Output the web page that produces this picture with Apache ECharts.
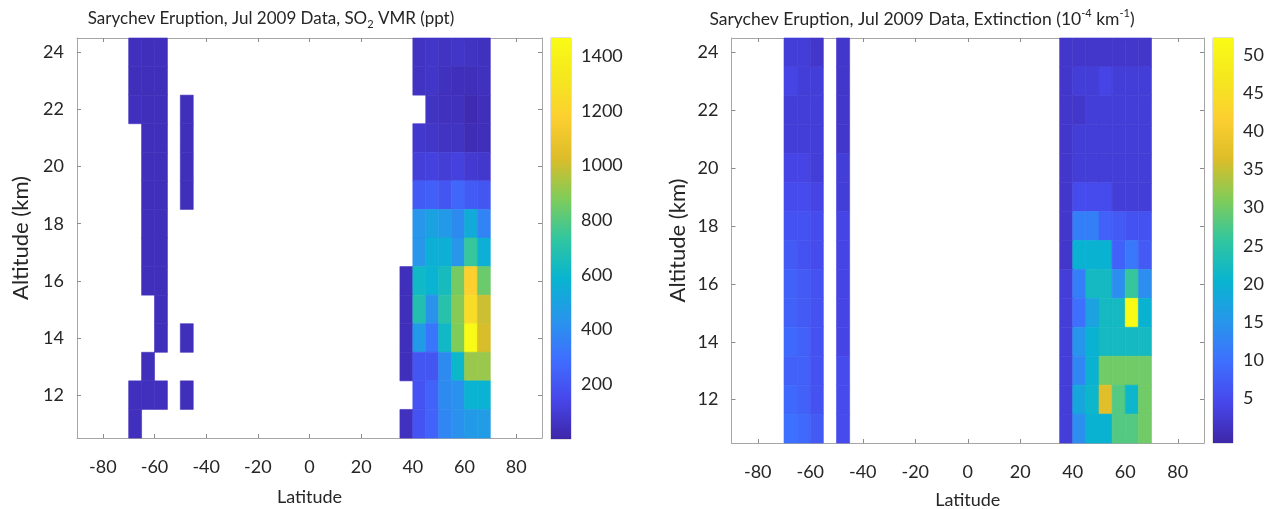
<!DOCTYPE html>
<html><head><meta charset="utf-8">
<script src="https://cdn.jsdelivr.net/npm/echarts@6/dist/echarts.min.js"></script>
<style>html,body{margin:0;padding:0;background:#fff}#c{width:1271px;height:509px}</style>
</head><body><div id="c"></div>
<script>
// ---------- data ----------
const latTicks = [-80, -60, -40, -20, 0, 20, 40, 60, 80];
const altTicks = [12, 14, 16, 18, 20, 22, 24];
const so2Ticks = [200, 400, 600, 800, 1000, 1200, 1400];
const extTicks = [5, 10, 15, 20, 25, 30, 35, 40, 45, 50];
const altitudes = [24, 23, 22, 21, 20, 19, 18, 17, 16, 15, 14, 13, 12, 11];
const cellLatWidth = 5;
const cellAltHeight = 1;

// SO2 VMR (ppt): southern cells, latitude centres
const so2WestLats = [-67.5, -62.5, -57.5, -52.5, -47.5];
const so2West = [
  [45, 40, 45, null, null],
  [40, 40, 40, null, null],
  [45, 40, 40, null, 40],
  [null, 40, 40, null, 40],
  [null, 40, 40, null, 40],
  [null, 40, 40, null, 40],
  [null, 40, 40, null, null],
  [null, 40, 40, null, null],
  [null, 40, 40, null, null],
  [null, null, 40, null, null],
  [null, null, 40, null, 40],
  [null, 40, null, null, null],
  [45, 45, 45, null, 40],
  [45, null, null, null, null]
];
// SO2 VMR (ppt): northern cells
const eastLats = [37.5, 42.5, 47.5, 52.5, 57.5, 62.5, 67.5];
const so2East = [
  [null, 60, 70, 60, 70, 60, 50],
  [null, 60, 70, 50, 40, 40, 50],
  [null, null, 60, 50, 50, 20, 40],
  [null, 80, 70, 60, 60, 30, 40],
  [null, 110, 120, 100, 120, 90, 80],
  [null, 220, 240, 200, 260, 220, 200],
  [null, 440, 500, 460, 400, 540, 370],
  [null, 440, 560, 560, 440, 740, 560],
  [40, 620, 580, 640, 860, 1180, 840],
  [40, 680, 430, 700, 890, 1250, 1000],
  [40, 460, 320, 620, 880, 1460, 1020],
  [40, 200, 200, 400, 600, 920, 920],
  [null, 190, 250, 400, 420, 580, 580],
  [50, 190, 250, 380, 420, 460, 470]
];
// Extinction (1e-4 km^-1): southern cells
const extWestLats = [-67.5, -62.5, -57.5, -47.5];
const extWest = [
  [3, 3, 2, 2],
  [4, 3, 3, 2],
  [3, 3, 3, 2],
  [3, 3, 3, 2],
  [4, 4, 3, 3],
  [5, 5, 4, 3],
  [6, 6, 5, 4],
  [7, 6, 5, 4],
  [8, 7, 6, 4],
  [8, 7, 6, 4],
  [9, 8, 6, 4],
  [8, 8, 6, 5],
  [9, 8, 6, 5],
  [10, 9, 7, 5]
];
// Extinction: northern cells
const extEast = [
  [2, 2, 2, 2, 2, 2, 2],
  [2, 3, 3, 4, 3, 3, 3],
  [2, 2, 3, 3, 3, 3, 3],
  [2, 3, 3, 3, 3, 3, 3],
  [2, 3, 3, 3, 3, 3, 3],
  [2, 5, 5, 5, 3, 3, 3],
  [2, 12, 12, 8, 7, 6, 6],
  [2, 20, 20, 20, 8, 11, 7],
  [3, 12, 22, 22, 14, 26, 14],
  [3, 10, 17, 22, 22, 52, 20],
  [3, 15, 20, 22, 22, 22, 22],
  [3, 13, 20, 30, 30, 30, 30],
  [3, 18, 21, 37, 28, 21, 30],
  [3, 14, 20, 20, 28, 28, 30]
];
const so2Range = [0, 1466];
const extRange = [-0.8, 52.2];

// ---------- helpers ----------
const parula = ['#3e26a8', '#4747eb', '#3e6fff', '#2796eb', '#08b4d0', '#31c69f',
  '#80cc59', '#dcbd29', '#fccf30', '#f5e71f', '#f9fb15'];

function cells(lats, rows) {
  const out = [];
  rows.forEach((row, i) => row.forEach((v, j) => {
    if (v !== null) out.push([lats[j], altitudes[i], v]);
  }));
  return out;
}
function renderCell(params, api) {
  const lat = api.value(0), alt = api.value(1);
  const p1 = api.coord([lat - cellLatWidth / 2, alt + cellAltHeight / 2]);
  const p2 = api.coord([lat + cellLatWidth / 2, alt - cellAltHeight / 2]);
  const shape = echarts.graphic.clipRectByRect(
    { x: p1[0], y: p1[1], width: p2[0] - p1[0], height: p2[1] - p1[1] },
    { x: params.coordSys.x, y: params.coordSys.y, width: params.coordSys.width, height: params.coordSys.height });
  if (!shape) return;
  const c = api.visual('color');
  return { type: 'rect', shape: shape, style: { fill: c, stroke: c, lineWidth: 0.6 } };
}
const gradStops = parula.map((c, i) => ({ offset: i / (parula.length - 1), color: c }));
function renderBar(params, api) {
  const cs = params.coordSys;
  const yTop = api.coord([0, api.value(2)])[1];
  const yBot = api.coord([0, api.value(1)])[1];
  return { type: 'rect', shape: { x: cs.x, y: yTop, width: cs.width, height: yBot - yTop },
    style: { fill: new echarts.graphic.LinearGradient(0, 1, 0, 0, gradStops) } };
}
const FONT = 'Lato';
const txt = { fontFamily: FONT, fontSize: 18, color: '#262626' };
const nameTxt = { fontFamily: FONT, fontSize: 22, color: '#262626' };
const boxLine = { show: true, onZero: false, lineStyle: { color: '#a6a6a6', width: 1 } };
const plain = v => String(v);

function plotAxes(gi, altGap, xGap) {
  return {
    x: [
      { type: 'value', gridIndex: gi, min: -90, max: 90, position: 'bottom',
        axisLine: boxLine, splitLine: { show: false },
        axisTick: { inside: true, length: 4, lineStyle: { color: '#8c8c8c' }, customValues: latTicks },
        axisLabel: Object.assign({ customValues: latTicks, margin: 20 }, txt),
        name: 'Latitude', nameLocation: 'middle', nameGap: xGap, nameTextStyle: txt },
      { type: 'value', gridIndex: gi, min: -90, max: 90, position: 'top',
        axisLine: boxLine, splitLine: { show: false }, axisLabel: { show: false },
        axisTick: { inside: true, length: 4, lineStyle: { color: '#8c8c8c' }, customValues: latTicks } }
    ],
    y: [
      { type: 'value', gridIndex: gi, min: 10.5, max: 24.5, position: 'left',
        axisLine: boxLine, splitLine: { show: false },
        axisTick: { inside: true, length: 4, lineStyle: { color: '#8c8c8c' }, customValues: altTicks },
        axisLabel: Object.assign({ customValues: altTicks, margin: 13 }, txt),
        name: 'Altitude (km)', nameLocation: 'middle', nameRotate: 90, nameGap: altGap, nameTextStyle: nameTxt },
      { type: 'value', gridIndex: gi, min: 10.5, max: 24.5, position: 'right',
        axisLine: boxLine, splitLine: { show: false }, axisLabel: { show: false },
        axisTick: { inside: true, length: 4, lineStyle: { color: '#8c8c8c' }, customValues: altTicks } }
    ]
  };
}
const a0 = plotAxes(0, 45, 50);
const a1 = plotAxes(1, 43, 48);

function cbAxes(gi, range, ticks) {
  return {
    x: { type: 'category', gridIndex: gi, data: ['c'], show: false },
    y: { type: 'value', gridIndex: gi, min: range[0], max: range[1], position: 'right',
      axisLine: { show: false }, splitLine: { show: false },
      axisTick: { show: true, inside: true, length: 3, lineStyle: { color: '#7f7f7f' }, customValues: ticks },
      axisLabel: Object.assign({ customValues: ticks, margin: 10, formatter: plain }, txt) }
  };
}
const c0 = cbAxes(2, so2Range, so2Ticks);
const c1 = cbAxes(3, extRange, extTicks);

const titleRich = {
  sub: { fontFamily: FONT, fontSize: 11, color: '#262626', verticalAlign: 'bottom', lineHeight: 22, padding: [6, 0, 0, 0] },
  sup: { fontFamily: FONT, fontSize: 11, color: '#262626', verticalAlign: 'top', lineHeight: 22 }
};
const gridBase = { outerBoundsMode: 'none', containLabel: false };

const option = {
  backgroundColor: '#ffffff',
  animation: false,
  title: [
    { text: 'Sarychev Eruption, Jul 2009 Data, SO{sub|2} VMR (ppt)', left: 266, top: 3, textAlign: 'center',
      textStyle: { fontFamily: FONT, fontSize: 17, fontWeight: 'normal', color: '#262626', lineHeight: 22, rich: titleRich } },
    { text: 'Sarychev Eruption, Jul 2009 Data, Extinction (10{sup|-4} km{sup|-1})', left: 917, top: 3, textAlign: 'center',
      textStyle: { fontFamily: FONT, fontSize: 17.5, fontWeight: 'normal', color: '#262626', lineHeight: 22, rich: titleRich } }
  ],
  grid: [
    Object.assign({ left: 77, top: 38, width: 465, height: 400 }, gridBase),
    Object.assign({ left: 731.5, top: 38, width: 472.5, height: 405 }, gridBase),
    Object.assign({ left: 551, top: 38, width: 20, height: 401, show: true, borderColor: '#bfbfbf', borderWidth: 1 }, gridBase),
    Object.assign({ left: 1213, top: 38, width: 20, height: 405, show: true, borderColor: '#bfbfbf', borderWidth: 1 }, gridBase)
  ],
  xAxis: [a0.x[0], a0.x[1], a1.x[0], a1.x[1], c0.x, c1.x],
  yAxis: [a0.y[0], a0.y[1], a1.y[0], a1.y[1], c0.y, c1.y],
  visualMap: [
    { type: 'continuous', show: false, min: so2Range[0], max: so2Range[1], dimension: 2, seriesIndex: [0, 1], inRange: { color: parula } },
    { type: 'continuous', show: false, min: extRange[0], max: extRange[1], dimension: 2, seriesIndex: [2, 3], inRange: { color: parula } }
  ],
  series: [
    { type: 'custom', xAxisIndex: 0, yAxisIndex: 0, renderItem: renderCell, data: cells(so2WestLats, so2West) },
    { type: 'custom', xAxisIndex: 0, yAxisIndex: 0, renderItem: renderCell, data: cells(eastLats, so2East) },
    { type: 'custom', xAxisIndex: 2, yAxisIndex: 2, renderItem: renderCell, data: cells(extWestLats, extWest) },
    { type: 'custom', xAxisIndex: 2, yAxisIndex: 2, renderItem: renderCell, data: cells(eastLats, extEast) },
    { type: 'custom', xAxisIndex: 4, yAxisIndex: 4, renderItem: renderBar, silent: true,
      data: [[0, so2Range[0], so2Range[1]]] },
    { type: 'custom', xAxisIndex: 5, yAxisIndex: 5, renderItem: renderBar, silent: true,
      data: [[0, extRange[0], extRange[1]]] }
  ]
};
const chart = echarts.init(document.getElementById('c'), null, { renderer: 'canvas' });
chart.setOption(option);
</script></body></html>
